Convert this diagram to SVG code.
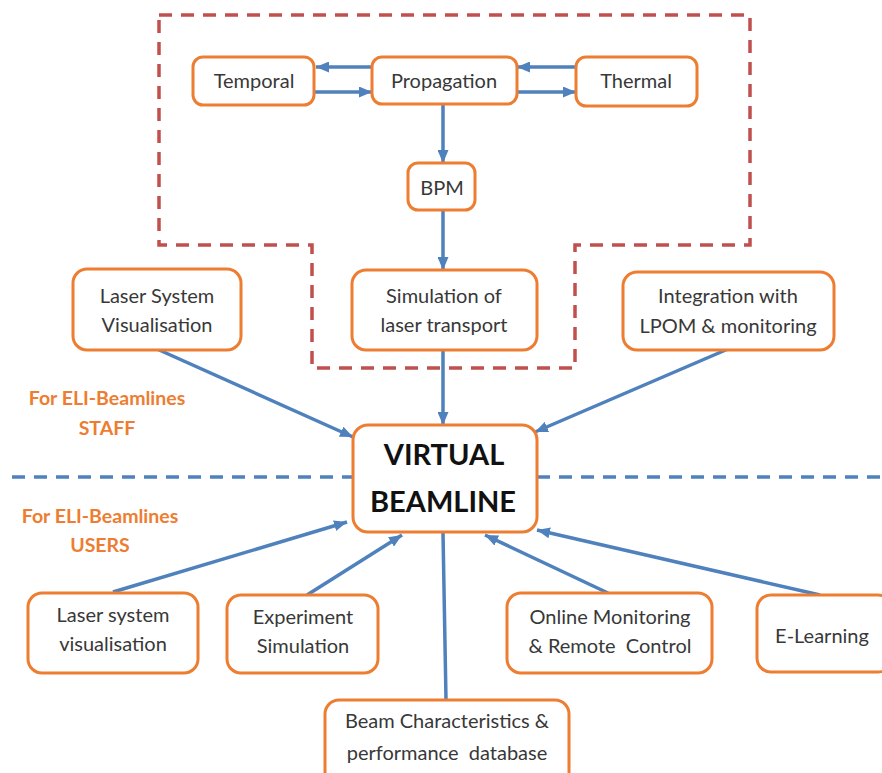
<svg xmlns="http://www.w3.org/2000/svg" width="882" height="773" viewBox="0 0 882 773">
<defs>
<marker id="arr" markerUnits="userSpaceOnUse" markerWidth="13" markerHeight="11" refX="13" refY="5.5" orient="auto">
<path d="M0,0 L13,5.5 L0,11 z" fill="#4F81BD"/>
</marker>
<style>
.box{fill:#fff;stroke:#ED7D31;stroke-width:3}
.t{font-family:Lato,"Liberation Sans",sans-serif;font-size:20px;fill:#383838;text-anchor:middle;white-space:pre}
.vb{font-family:Lato,"Liberation Sans",sans-serif;font-size:29px;font-weight:bold;fill:#111;text-anchor:middle}
.lbl{font-family:Lato,"Liberation Sans",sans-serif;font-size:19.5px;font-weight:bold;fill:#ED7D31;text-anchor:middle}
.c{fill:none;stroke:#4F81BD;stroke-width:3.5}
</style>
</defs>
<rect width="882" height="773" fill="#fff"/>
<g id="regions">
<path d="M159,15 H750 V245 H575 V368 H312 V245 H159 Z" fill="none" stroke="#C0504D" stroke-width="3.5" stroke-dasharray="13,9"/>
<path d="M12,477 H352 M537,477 H882" fill="none" stroke="#4F81BD" stroke-width="3.5" stroke-dasharray="13,9"/>
</g>
<g id="connectors">
<path class="c" d="M372,67 L316,67" marker-end="url(#arr)"/>
<path class="c" d="M314,92 L372,92" marker-end="url(#arr)"/>
<path class="c" d="M576,67 L517,67" marker-end="url(#arr)"/>
<path class="c" d="M517,92 L576,92" marker-end="url(#arr)"/>
<path class="c" d="M443,104 L443,163" marker-end="url(#arr)"/>
<path class="c" d="M443,210 L443,270" marker-end="url(#arr)"/>
<path class="c" d="M443,350 L443,425" marker-end="url(#arr)"/>
<path class="c" d="M157,349 L353,437" marker-end="url(#arr)"/>
<path class="c" d="M728,349 L535,432" marker-end="url(#arr)"/>
<path class="c" d="M113,592 L347,522" marker-end="url(#arr)"/>
<path class="c" d="M307,595 L402,535" marker-end="url(#arr)"/>
<path class="c" d="M443,533 L446,700" stroke-width="3"/>
<path class="c" d="M608,593 L485,535" marker-end="url(#arr)"/>
<path class="c" d="M820,595 L537,530" marker-end="url(#arr)"/>
</g>
<g id="temporal"><rect class="box" x="193" y="57" width="121" height="48" rx="10"/><text class="t" x="254" y="88">Temporal</text></g>
<g id="propagation"><rect class="box" x="372" y="57" width="145" height="47" rx="10"/><text class="t" x="444" y="88">Propagation</text></g>
<g id="thermal"><rect class="box" x="576" y="57" width="121" height="49" rx="10"/><text class="t" x="636" y="88">Thermal</text></g>
<g id="bpm"><rect class="box" x="408" y="163" width="67" height="47" rx="10"/><text class="t" x="442" y="195">BPM</text></g>
<g id="laser-system-vis-staff"><rect class="box" x="73" y="269" width="168" height="81" rx="14"/><text class="t" x="157" y="303">Laser System</text><text class="t" x="157" y="332">Visualisation</text></g>
<g id="simulation"><rect class="box" x="352" y="270" width="185" height="80" rx="14"/><text class="t" x="444" y="303">Simulation of</text><text class="t" x="444" y="332">laser transport</text></g>
<g id="integration"><rect class="box" x="623" y="272" width="211" height="78" rx="14"/><text class="t" x="728" y="303">Integration with</text><text class="t" x="728" y="333">LPOM &amp; monitoring</text></g>
<g id="virtual-beamline"><rect class="box" x="353" y="425" width="184" height="107" rx="15"/><text class="vb" x="444" y="465">VIRTUAL</text><text class="vb" x="443" y="512">BEAMLINE</text></g>
<g id="label-staff"><text class="lbl" x="107" y="405">For ELI-Beamlines</text><text class="lbl" x="107" y="435">STAFF</text></g>
<g id="label-users"><text class="lbl" x="100" y="523">For ELI-Beamlines</text><text class="lbl" x="100" y="552">USERS</text></g>
<g id="laser-system-vis-users"><rect class="box" x="28" y="593" width="170" height="80" rx="14"/><text class="t" x="113" y="622">Laser system</text><text class="t" x="113" y="651">visualisation</text></g>
<g id="experiment"><rect class="box" x="227" y="595" width="151" height="78" rx="14"/><text class="t" x="303" y="624">Experiment</text><text class="t" x="303" y="653">Simulation</text></g>
<g id="online"><rect class="box" x="507" y="593" width="205" height="80" rx="14"/><text class="t" x="610" y="624">Online Monitoring</text><text class="t" x="610" y="653">&amp; Remote  Control</text></g>
<g id="elearning"><rect class="box" x="757" y="595" width="135" height="77" rx="14"/><text class="t" x="822" y="643">E-Learning</text></g>
<g id="beam-db"><rect class="box" x="325" y="700" width="244" height="90" rx="14"/><text class="t" x="447" y="728">Beam Characteristics &amp;</text><text class="t" x="447" y="760">performance  database</text></g>
</svg>
